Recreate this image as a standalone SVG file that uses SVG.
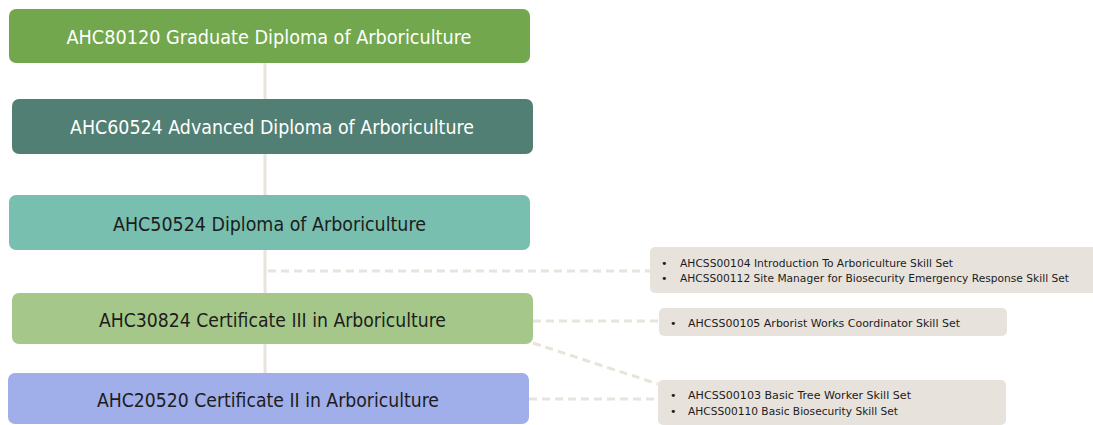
<svg xmlns="http://www.w3.org/2000/svg" width="1093" height="425" viewBox="0 0 1093 425">
<style>
.t{font-family:"DejaVu Sans","Liberation Sans",sans-serif;font-size:20px;text-anchor:middle}
.w{fill:#ffffff}
.d{fill:#1c1c1c}
.s{font-family:"DejaVu Sans","Liberation Sans",sans-serif;font-size:11px;fill:#1c1c1c}
.sk{fill:#E7E3DC}
.ln{stroke:#E8E4DC;stroke-width:3;fill:none}
.da{stroke:#E8E4DC;stroke-width:3;fill:none;stroke-dasharray:8 5}
</style>
<g id="connectors">
<line class="ln" x1="265" y1="63" x2="265" y2="373"/>
<line class="da" x1="268" y1="271" x2="650" y2="271"/>
<line class="da" x1="533" y1="321" x2="659" y2="321"/>
<line class="da" x1="533" y1="343" x2="658" y2="384"/>
<line class="da" x1="529" y1="399" x2="658" y2="399"/>
</g>
<g id="n1">
<rect x="9" y="9" width="521" height="54" rx="7" fill="#72A74E"/>
<text class="t w" x="269" y="44" textLength="405" lengthAdjust="spacingAndGlyphs">AHC80120 Graduate Diploma of Arboriculture</text>
</g>
<g id="n2">
<rect x="12" y="99" width="521" height="55" rx="7" fill="#517F73"/>
<text class="t w" x="272" y="134" textLength="404" lengthAdjust="spacingAndGlyphs">AHC60524 Advanced Diploma of Arboriculture</text>
</g>
<g id="n3">
<rect x="9" y="195" width="521" height="55" rx="7" fill="#78BFAF"/>
<text class="t d" x="269.5" y="231" textLength="313" lengthAdjust="spacingAndGlyphs">AHC50524 Diploma of Arboriculture</text>
</g>
<g id="n4">
<rect x="12" y="293" width="521" height="51" rx="7" fill="#A5C88A"/>
<text class="t d" x="272.5" y="327" textLength="347" lengthAdjust="spacingAndGlyphs">AHC30824 Certificate III in Arboriculture</text>
</g>
<g id="n5">
<rect x="8" y="373" width="521" height="51" rx="7" fill="#A0AEEA"/>
<text class="t d" x="268" y="407" textLength="342" lengthAdjust="spacingAndGlyphs">AHC20520 Certificate II in Arboriculture</text>
</g>
<g id="s1">
<rect class="sk" x="650" y="247" width="450" height="46" rx="5"/>
<text class="s" x="661" y="267">•</text>
<text class="s" x="680" y="267" textLength="273" lengthAdjust="spacingAndGlyphs">AHCSS00104 Introduction To Arboriculture Skill Set</text>
<text class="s" x="661" y="282">•</text>
<text class="s" x="680" y="282" textLength="389" lengthAdjust="spacingAndGlyphs">AHCSS00112 Site Manager for Biosecurity Emergency Response Skill Set</text>
</g>
<g id="s2">
<rect class="sk" x="659" y="308" width="348" height="28" rx="5"/>
<text class="s" x="670" y="326.5">•</text>
<text class="s" x="688" y="326.5" textLength="272" lengthAdjust="spacingAndGlyphs">AHCSS00105 Arborist Works Coordinator Skill Set</text>
</g>
<g id="s3">
<rect class="sk" x="658" y="380" width="348" height="45" rx="5"/>
<text class="s" x="670" y="399">•</text>
<text class="s" x="688" y="399" textLength="223" lengthAdjust="spacingAndGlyphs">AHCSS00103 Basic Tree Worker Skill Set</text>
<text class="s" x="670" y="415">•</text>
<text class="s" x="688" y="415" textLength="210" lengthAdjust="spacingAndGlyphs">AHCSS00110 Basic Biosecurity Skill Set</text>
</g>
</svg>
